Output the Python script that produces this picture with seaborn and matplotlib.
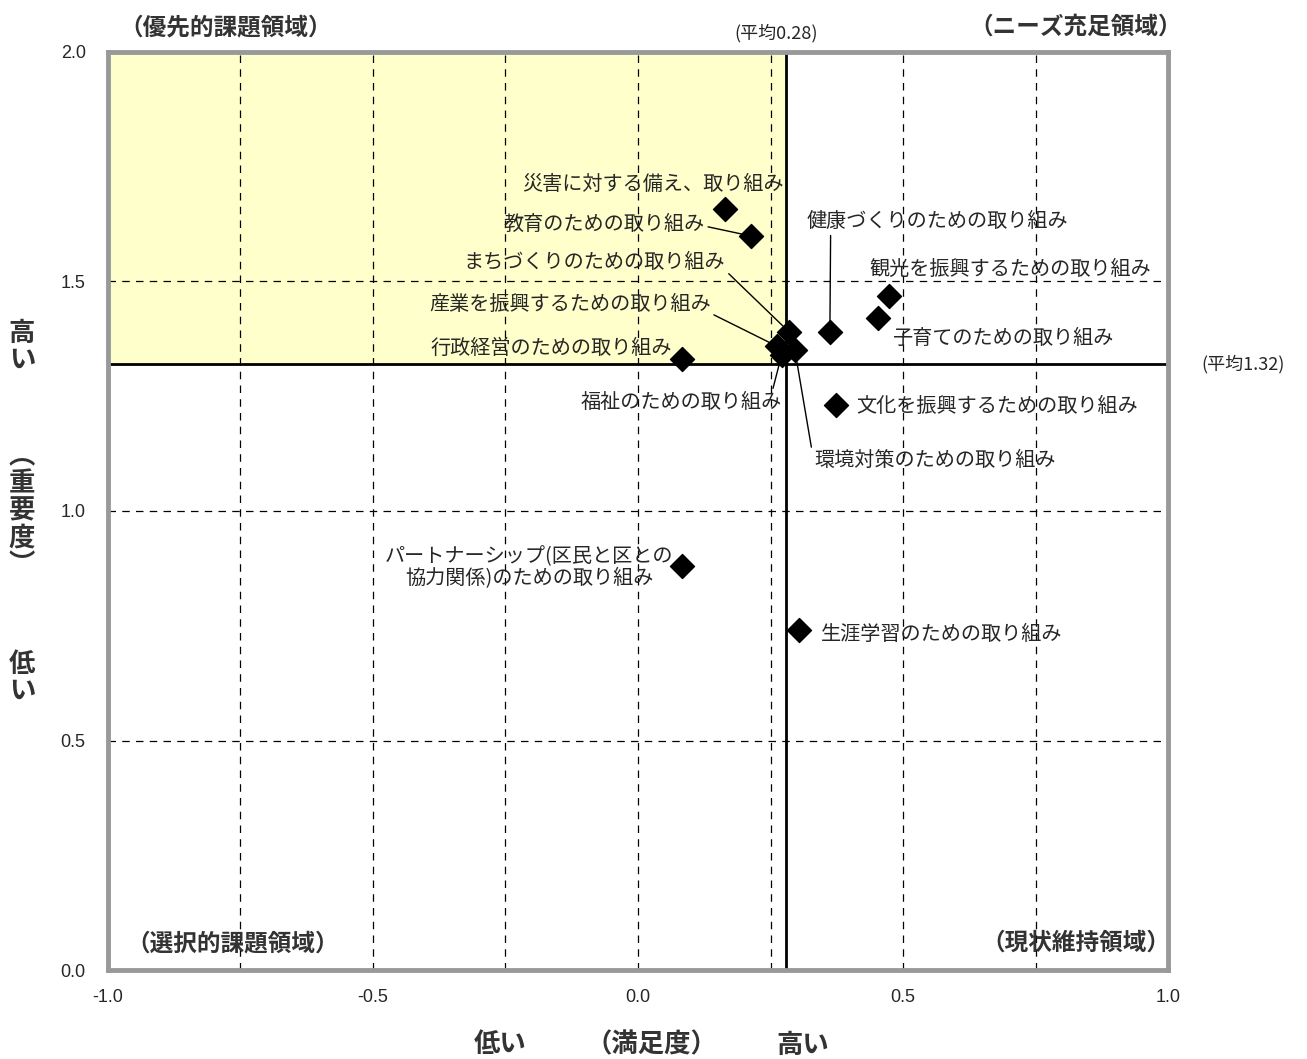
import matplotlib
matplotlib.use("Agg")
import matplotlib.pyplot as plt
import seaborn as sns
import pandas as pd

# 満足度(x) と 重要度(y)
items = [
    "災害に対する備え、取り組み",
    "教育のための取り組み",
    "まちづくりのための取り組み",
    "産業を振興するための取り組み",
    "行政経営のための取り組み",
    "福祉のための取り組み",
    "環境対策のための取り組み",
    "健康づくりのための取り組み",
    "観光を振興するための取り組み",
    "子育てのための取り組み",
    "文化を振興するための取り組み",
    "パートナーシップ(区民と区との\n協力関係)のための取り組み",
    "生涯学習のための取り組み",
]
manzoku = [0.164, 0.213, 0.285, 0.262, 0.083, 0.271, 0.296, 0.362, 0.474, 0.453, 0.374, 0.083, 0.304]
juyou = [1.658, 1.599, 1.390, 1.359, 1.331, 1.340, 1.350, 1.390, 1.468, 1.420, 1.231, 0.880, 0.741]

mean_x = 0.28
mean_y = 1.32

df = pd.DataFrame({"item": items, "満足度": manzoku, "重要度": juyou})

# ラベルの位置 (x, y, ha, 引出線の起点)
label_pos = [
    (0.275, 1.712, "right", None),
    (0.126, 1.625, "right", (1.0, 0.4)),
    (0.165, 1.542, "right", (1.0, 0.1)),
    (0.137, 1.449, "right", (1.0, 0.1)),
    (0.064, 1.355, "right", None),
    (0.271, 1.237, "right", (0.95, 0.9)),
    (0.333, 1.109, "left", (-0.01, 0.95)),
    (0.317, 1.630, "left", (0.094, 0.05)),
    (0.436, 1.525, "left", None),
    (0.479, 1.375, "left", None),
    (0.411, 1.227, "left", None),
    (-0.205, 0.876, "center", None),
    (0.345, 0.732, "left", None),
]

sns.set_style("white")
plt.rcParams["font.family"] = ["Noto Sans CJK JP", "DejaVu Sans"]

fig = plt.figure(figsize=(13.07, 10.59), dpi=100)
ax = fig.add_axes([0.0826, 0.084, 0.8111, 0.867])

ax.axvspan(-1.0, mean_x, ymin=mean_y / 2.0, ymax=1.0, color="#ffffcc", zorder=0)

for gx in [-0.75, -0.5, -0.25, 0.0, 0.25, 0.5, 0.75]:
    ax.axvline(gx, color="black", lw=0.9, ls=(0, (6, 5)), zorder=1)
for gy in [0.5, 1.0, 1.5]:
    ax.axhline(gy, color="black", lw=0.9, ls=(0, (6, 5)), zorder=1)

ax.axvline(mean_x, color="black", lw=2, zorder=2)
ax.axhline(mean_y, color="black", lw=2, zorder=2)

sns.scatterplot(data=df, x="満足度", y="重要度", marker="D", s=150, color="black",
                edgecolor="black", ax=ax, zorder=4)

for name, px, py, (tx, ty, ha, rel) in zip(items, manzoku, juyou, label_pos):
    if rel is None:
        ax.annotate(name, xy=(px, py), xytext=(tx, ty), ha=ha, va="center",
                    fontsize=14.5, multialignment="center", linespacing=1.05, zorder=5)
    else:
        ax.annotate(name, xy=(px, py), xytext=(tx, ty), ha=ha, va="center",
                    fontsize=14.5, zorder=5,
                    arrowprops=dict(arrowstyle="-", color="black", lw=1,
                                    relpos=rel, shrinkA=0, shrinkB=6))

ax.set_xlim(-1.0, 1.0)
ax.set_ylim(0.0, 2.0)
ax.set_xticks([-1.0, -0.5, 0.0, 0.5, 1.0])
ax.set_yticks([0.0, 0.5, 1.0, 1.5, 2.0])
ax.set_xticklabels(["-1.0", "-0.5", "0.0", "0.5", "1.0"], family="Liberation Sans", fontsize=13)
ax.set_yticklabels(["0.0", "0.5", "1.0", "1.5", "2.0"], family="Liberation Sans", fontsize=13)
ax.tick_params(length=0, pad=14)
ax.tick_params(axis="y", pad=16)
ax.set_xlabel("")
ax.set_ylabel("")
for sp in ax.spines.values():
    sp.set_color("#999999")
    sp.set_linewidth(3.5)
    sp.set_zorder(6)

qkw = dict(fontsize=17, fontweight="bold", color="#333333", va="center", ha="center")
fig.text(226 / 1307, 1 - 27 / 1059, "（優先的課題領域）", **qkw)
fig.text(1076 / 1307, 1 - 27 / 1059, "（ニーズ充足領域）", **qkw)
fig.text(233 / 1307, 1 - 943 / 1059, "（選択的課題領域）", **qkw)
fig.text(1076 / 1307, 1 - 943 / 1059, "（現状維持領域）", **qkw)

fig.text(776 / 1307, 1 - 33 / 1059, "(平均0.28)", fontsize=13, ha="center", va="center")
fig.text(1243 / 1307, 1 - 364 / 1059, "(平均1.32)", fontsize=13, ha="center", va="center")

lkw = dict(fontsize=19, fontweight="bold", color="#333333", va="center", ha="center")
fig.text(500 / 1307, 1 - 1045 / 1059, "低い", **lkw)
fig.text(651 / 1307, 1 - 1045 / 1059, "（満足度）", **lkw)
fig.text(803 / 1307, 1 - 1045 / 1059, "高い", **lkw)

fig.text(22 / 1307, 1 - 347 / 1059, "高\nい", linespacing=1.0, **lkw)
fig.text(22 / 1307, 1 - 511 / 1059, "︵\n重\n要\n度\n︶", linespacing=1.0, **lkw)
fig.text(22 / 1307, 1 - 678 / 1059, "低\nい", linespacing=1.0, **lkw)

fig.savefig("out.png", dpi=100)
